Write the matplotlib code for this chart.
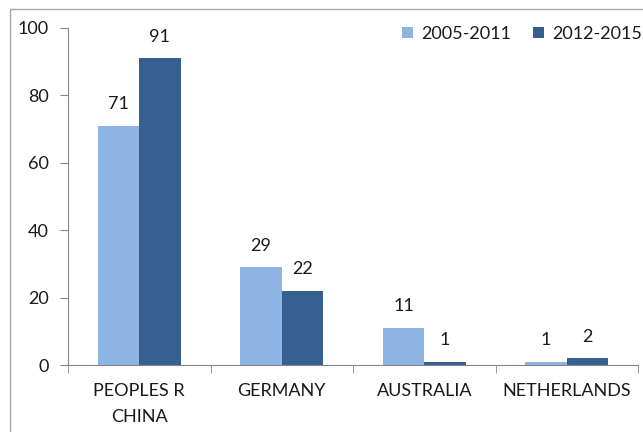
import matplotlib
matplotlib.use("Agg")
import matplotlib.pyplot as plt
import numpy as np
from matplotlib.patches import Rectangle

categories = ["PEOPLES R\nCHINA", "GERMANY", "AUSTRALIA", "NETHERLANDS"]
series_names = ["2005-2011", "2012-2015"]
values_2005_2011 = [71, 29, 11, 1]
values_2012_2015 = [91, 22, 1, 2]
colors = ["#8EB4E3", "#376092"]

plt.rcParams['font.family'] = ['Lato', 'DejaVu Sans']
fig = plt.figure(figsize=(6.43, 4.32), dpi=100)
ax = fig.add_axes([68/643, 1-365/432, (638-68)/643, (365-28)/432])

# outer border
fig.patches.append(Rectangle((10/643, -0.1), 1.2, 1-9/432+0.1, transform=fig.transFigure,
                             fill=False, edgecolor="#a6a6a6", linewidth=1.0))

txt = "#1a1a1a"
fs = 13
x = np.arange(len(categories))
w = 0.29
for i, (vals, c) in enumerate(zip([values_2005_2011, values_2012_2015], colors)):
    xs = x + (i - 0.5) * w
    ax.bar(xs, vals, width=w, color=c, label=series_names[i])
    for xi, v in zip(xs, vals):
        ax.text(xi, v + 4.0, str(v), ha="center", va="bottom", fontsize=fs, color=txt)

ax.set_xlim(-0.5, len(categories) - 0.5)
ax.set_ylim(0, 100)
ax.set_yticks([0, 20, 40, 60, 80, 100])
ax.set_xticks(x)
ax.set_xticklabels(categories, fontsize=fs, color=txt, linespacing=1.75)
ax.set_xticks(np.arange(-0.5, len(categories)), minor=True)
ax.tick_params(axis="x", which="major", length=0, pad=13)
ax.tick_params(axis="x", which="minor", length=6, color="#868686")
ax.tick_params(axis="y", length=6, color="#868686", labelsize=fs, labelcolor=txt, pad=8)
for s in ["top", "right"]:
    ax.spines[s].set_visible(False)
for s in ["left", "bottom"]:
    ax.spines[s].set_color("#868686")

leg = ax.legend(loc="upper right", bbox_to_anchor=(1.035, 1.055), ncol=2, frameon=False,
                fontsize=fs, handlelength=0.6, handleheight=0.6, handletextpad=0.45,
                columnspacing=1.2)
for t in leg.get_texts():
    t.set_color(txt)

fig.savefig("out.png", dpi=100)
